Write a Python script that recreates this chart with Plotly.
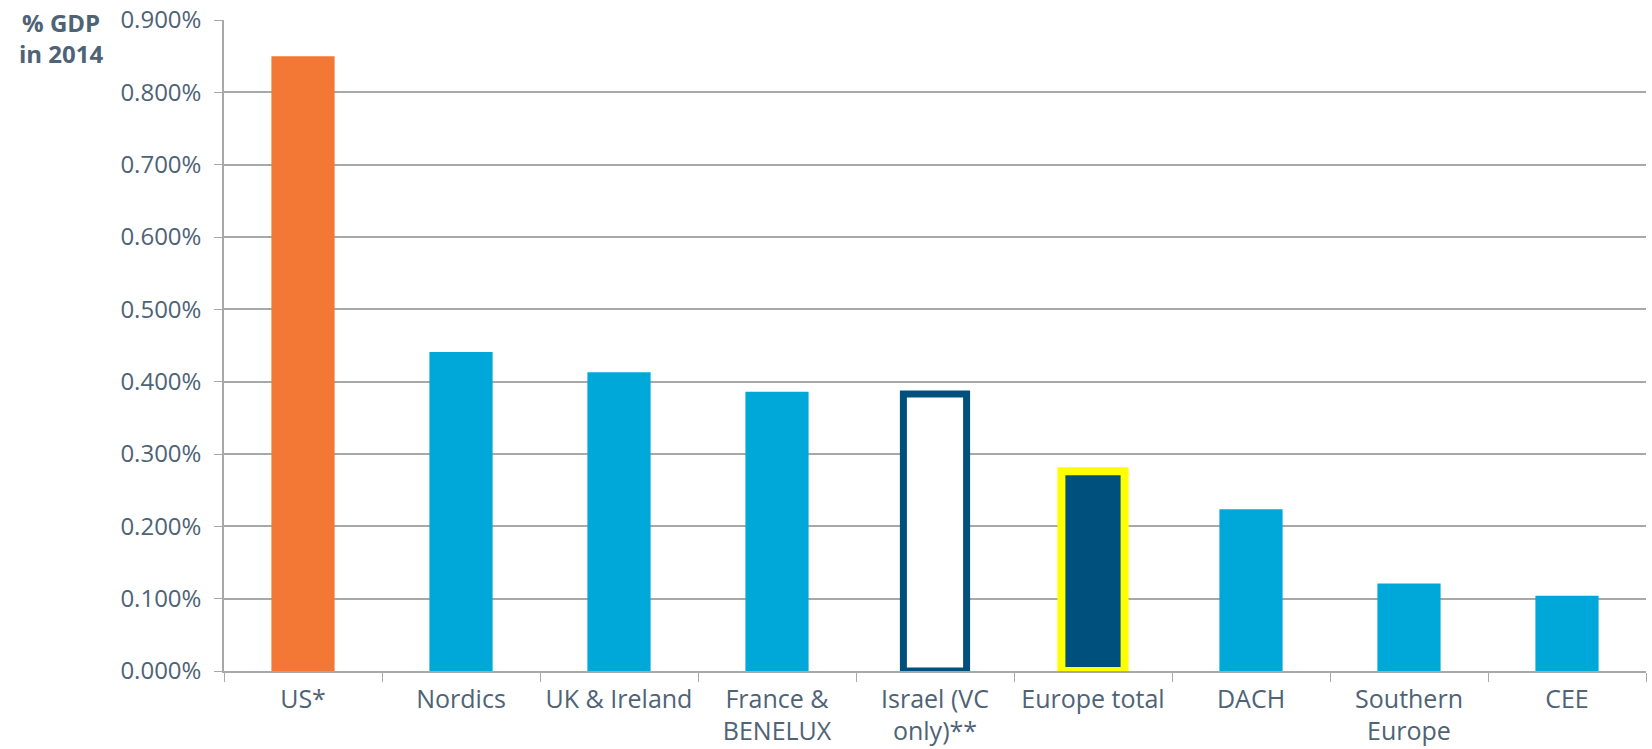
import plotly.graph_objects as go

categories = ["US*", "Nordics", "UK &amp; Ireland", "France &amp;<br>BENELUX", "Israel (VC<br>only)**",
              "Europe total", "DACH", "Southern<br>Europe", "CEE"]
values = [0.850, 0.441, 0.413, 0.386, 0.383, 0.276, 0.2235, 0.121, 0.104]
fill_colors = ["#F47835", "#00A8DA", "#00A8DA", "#00A8DA", "#FFFFFF",
               "#00507D", "#00A8DA", "#00A8DA", "#00A8DA"]
line_colors = ["#F47835", "#00A8DA", "#00A8DA", "#00A8DA", "#00507D",
               "#FFFF00", "#00A8DA", "#00A8DA", "#00A8DA"]
line_widths = [0, 0, 0, 0, 7, 8, 0, 0, 0]
y_ticks = [0.0, 0.1, 0.2, 0.3, 0.4, 0.5, 0.6, 0.7, 0.8, 0.9]
y_tick_text = [f"{v:.3f}%" for v in y_ticks]

text_color = "#4E6376"
font_family = "Open Sans, sans-serif"

fig = go.Figure(go.Bar(
    x=categories,
    y=values,
    marker=dict(color=fill_colors, line=dict(color=line_colors, width=line_widths)),
    width=0.4,
))

fig.update_layout(
    width=1652, height=749,
    margin=dict(l=224, r=6, t=20, b=78),
    plot_bgcolor="white", paper_bgcolor="white",
    showlegend=False,
    font=dict(family=font_family, size=24, color=text_color),
    annotations=[dict(
        text="<b>% GDP<br>in 2014</b>", xref="paper", yref="paper",
        x=-0.1146, y=0.972, xanchor="center", yanchor="middle", showarrow=False, align="center",
        font=dict(family=font_family, size=24, color=text_color),
    )],
)
fig.update_yaxes(
    range=[0, 0.9], tickvals=y_ticks, ticktext=y_tick_text,
    showgrid=True, gridcolor="#A8A8A8", gridwidth=1.5,
    showline=True, linecolor="#A8A8A8", linewidth=1.5,
    ticks="outside", ticklen=8, tickcolor="#A8A8A8",
    zeroline=False, ticklabelstandoff=8, automargin=False,
)
fig.update_xaxes(
    showline=True, linecolor="#A8A8A8", linewidth=1.5,
    ticks="outside", ticklen=9, tickcolor="#A8A8A8", tickson="boundaries",
    showgrid=False, tickfont=dict(size=25), ticklabelstandoff=5, automargin=False,
)

fig.write_html("out.html", config={"displayModeBar": False},
               post_script="document.body.style.margin='0';")
